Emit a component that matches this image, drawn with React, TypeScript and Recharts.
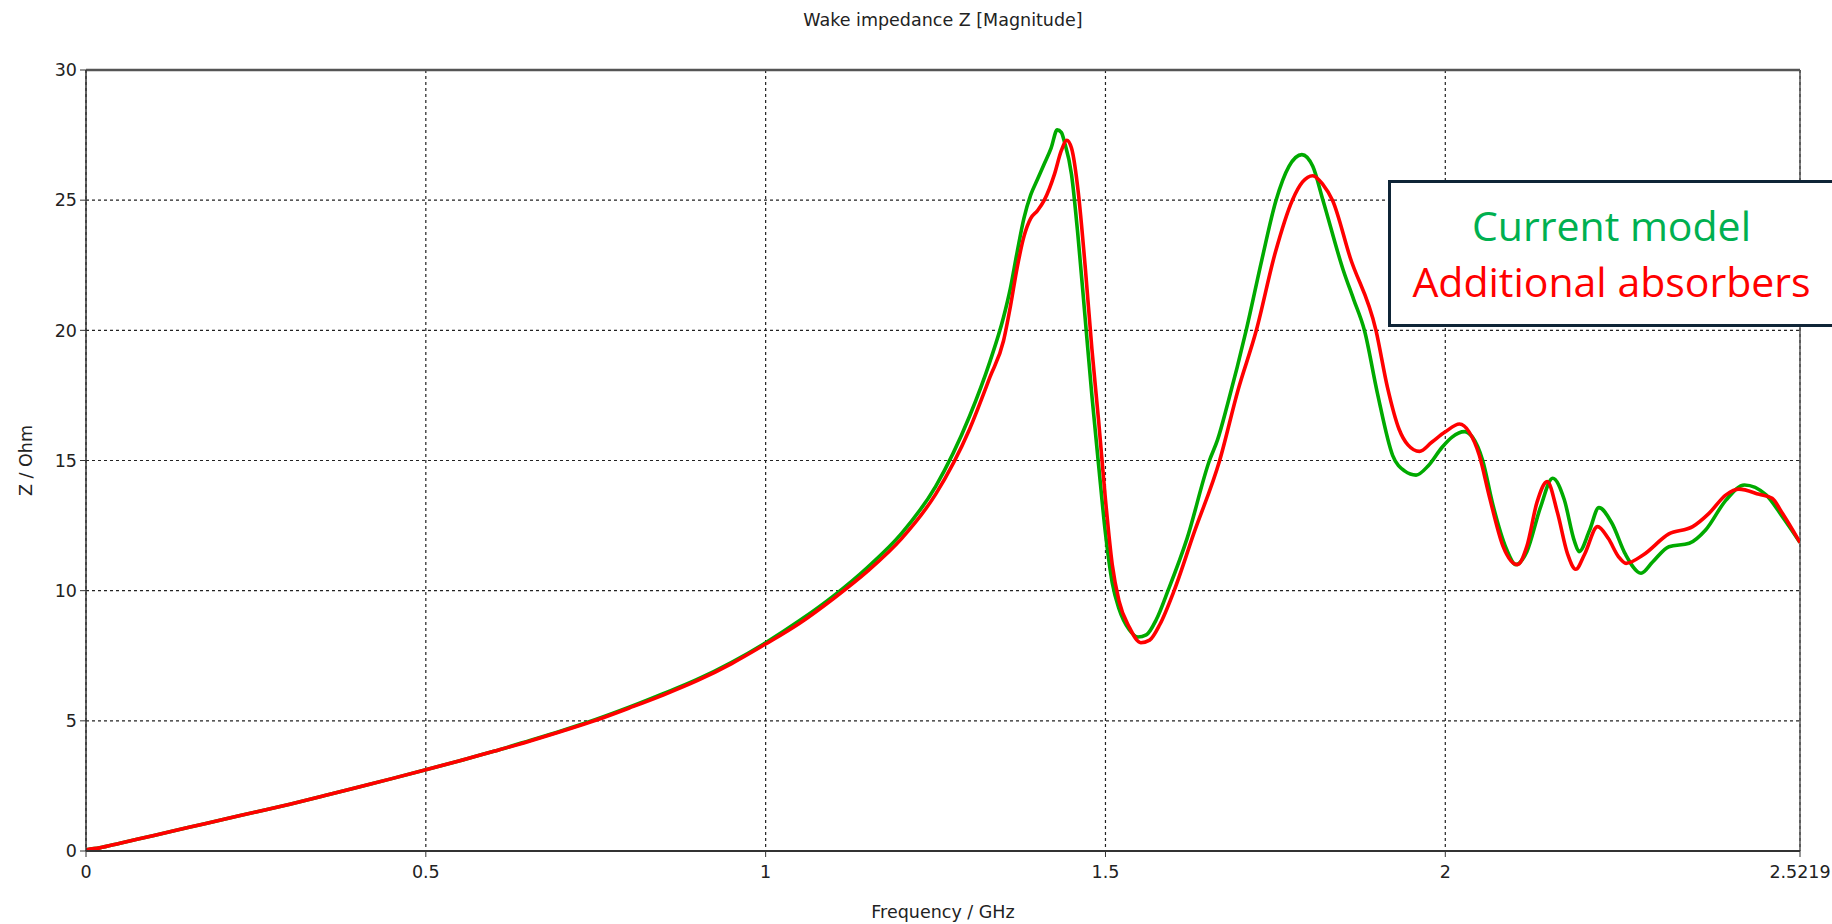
import { LineChart, Line, XAxis, YAxis, CartesianGrid, ReferenceLine } from 'recharts';

// Frequency (GHz) and |Z| (Ohm)
const currentFreq = [
  0, 0.02, 0.05, 0.1, 0.15, 0.2, 0.25, 0.3, 0.35, 0.4, 0.45, 0.5, 0.55, 0.6, 0.65, 0.7, 0.75, 0.8, 0.85, 0.9, 0.95,
  1.0, 1.05, 1.1, 1.15, 1.2, 1.25, 1.3, 1.33, 1.35, 1.36, 1.37, 1.38, 1.39, 1.4, 1.41, 1.42, 1.429, 1.435, 1.44, 1.45,
  1.46, 1.47, 1.48, 1.49, 1.5, 1.51, 1.52, 1.535, 1.548, 1.56, 1.575, 1.592, 1.62, 1.653, 1.665, 1.68, 1.707, 1.73,
  1.751, 1.77, 1.789, 1.805, 1.82, 1.85, 1.865, 1.881, 1.9, 1.9225, 1.94, 1.957, 1.975, 1.995, 2.01, 2.028, 2.04,
  2.055, 2.07, 2.09, 2.104, 2.12, 2.14, 2.158, 2.175, 2.19, 2.197, 2.212, 2.226, 2.245, 2.265, 2.288, 2.305, 2.329,
  2.359, 2.383, 2.413, 2.44, 2.472, 2.496, 2.5219,
];
const currentZ = [
  0.05, 0.12, 0.3, 0.6, 0.9, 1.2, 1.5, 1.8, 2.12, 2.45, 2.78, 3.12, 3.47, 3.83, 4.22, 4.62, 5.05, 5.53, 6.05, 6.6, 7.25,
  8.0, 8.85, 9.8, 10.9, 12.2, 14.0, 16.7, 18.8, 20.5, 21.6, 23.0, 24.3, 25.2, 25.8, 26.4, 27.0, 27.7, 27.6, 27.2, 26.0,
  23.5, 20.5, 17.5, 14.8, 12.2, 10.3, 9.3, 8.5, 8.22, 8.3, 8.9, 10.0, 12.0, 15.0, 15.8, 17.2, 20.0, 22.7,
  25.0, 26.3, 26.75, 26.3, 25.0, 22.3, 21.2, 20.0, 17.6, 15.2, 14.6, 14.44, 14.8, 15.5, 15.9, 16.11, 15.9,
  15.0, 13.3, 11.6, 11.0, 11.5, 13.2, 14.32, 13.5, 11.9, 11.5, 12.3, 13.19, 12.6, 11.4, 10.67, 11.1, 11.69,
  11.82, 12.33, 13.48, 14.06, 13.68, 12.84, 11.85,
];

const absorberFreq = [
  0, 0.02, 0.05, 0.1, 0.15, 0.2, 0.25, 0.3, 0.35, 0.4, 0.45, 0.5, 0.55, 0.6, 0.65, 0.7, 0.75, 0.8, 0.85, 0.9, 0.95,
  1.0, 1.05, 1.1, 1.15, 1.2, 1.25, 1.3, 1.33, 1.35, 1.36, 1.37, 1.38, 1.39, 1.4, 1.41, 1.425, 1.435, 1.443, 1.45, 1.46,
  1.47, 1.48, 1.49, 1.5, 1.51, 1.52, 1.535, 1.552, 1.565, 1.58, 1.601, 1.63, 1.668, 1.695, 1.722, 1.75, 1.775, 1.79,
  1.805, 1.82, 1.834, 1.86, 1.898, 1.915, 1.932, 1.945, 1.962, 1.98, 2.0, 2.021, 2.035, 2.05, 2.065, 2.085, 2.106,
  2.12, 2.135, 2.15, 2.165, 2.18, 2.192, 2.205, 2.224, 2.24, 2.255, 2.266, 2.291, 2.329, 2.364, 2.388, 2.413, 2.432,
  2.462, 2.481, 2.496, 2.5219,
];
const absorberZ = [
  0.05, 0.12, 0.3, 0.6, 0.9, 1.2, 1.5, 1.8, 2.12, 2.45, 2.78, 3.12, 3.47, 3.83, 4.2, 4.6, 5.02, 5.5, 6.0, 6.55, 7.2,
  7.95, 8.75, 9.7, 10.75, 12.0, 13.7, 16.2, 18.2, 19.6, 20.9, 22.4, 23.6, 24.3, 24.6, 25.0, 26.0, 26.9, 27.3, 27.0, 25.3,
  22.5, 19.3, 16.5, 13.5, 11.0, 9.6, 8.6, 8.0, 8.1, 8.7, 10.0, 12.2, 15.0, 17.7, 20.0, 23.0, 25.0, 25.7,
  25.94, 25.6, 25.0, 22.8, 20.0, 17.8, 16.2, 15.6, 15.35, 15.7, 16.1, 16.4, 16.1, 15.2, 13.6, 11.7, 11.0,
  11.7, 13.4, 14.19, 13.0, 11.4, 10.82, 11.4, 12.46, 12.0, 11.3, 11.05, 11.37, 12.18, 12.46, 12.97, 13.68, 13.9,
  13.7, 13.55, 12.97, 11.85,
];

const xTicks = [0, 0.5, 1, 1.5, 2, 2.5, 2.5219];
const yTicks = [0, 5, 10, 15, 20, 25, 30];

const currentData = currentFreq.map((f, i) => ({ f, z: currentZ[i] }));
const absorberData = absorberFreq.map((f, i) => ({ f, z: absorberZ[i] }));

const FONT = 'DejaVu Sans';
const tickStyle = { fill: '#222', fontSize: 17.5, fontFamily: FONT };

export default function App() {
  return (
    <div style={{ position: 'absolute', left: 0, top: 0, width: 1832, height: 924, background: '#fff' }}>
      <div
        style={{
          position: 'absolute',
          top: 10,
          left: 86,
          width: 1714,
          textAlign: 'center',
          fontFamily: FONT,
          fontSize: 17.5,
          color: '#222',
        }}
      >
        Wake impedance Z [Magnitude]
      </div>

      <LineChart width={1832} height={924} margin={{ top: 70, right: 32, left: 0, bottom: 0 }}>
        <CartesianGrid stroke="#222" strokeDasharray="3 3" strokeWidth={1.2} />
        <XAxis
          type="number"
          dataKey="f"
          domain={[0, 2.5219]}
          ticks={xTicks}
          tickFormatter={(v: number) => (v === 2.5 ? '' : String(v))}
          height={73}
          tickSize={6}
          tickMargin={9}
          tick={tickStyle}
          axisLine={{ stroke: '#333', strokeWidth: 2 }}
          tickLine={{ stroke: '#333' }}
          allowDataOverflow
          label={{ value: 'Frequency / GHz', position: 'insideBottom', offset: 6, style: { fill: '#222', fontSize: 17.5, fontFamily: FONT } }}
        />
        <YAxis
          type="number"
          domain={[0, 30]}
          ticks={yTicks}
          width={86}
          tickSize={6}
          tickMargin={3}
          tick={tickStyle}
          axisLine={{ stroke: '#333', strokeWidth: 1.5 }}
          tickLine={{ stroke: '#333' }}
          label={{
            value: 'Z / Ohm',
            angle: -90,
            position: 'insideLeft',
            offset: 26,
            style: { fill: '#222', fontSize: 17.5, fontFamily: FONT, textAnchor: 'middle' },
          }}
        />
        <ReferenceLine y={30} stroke="#555" strokeWidth={2.5} />
        <ReferenceLine x={2.5219} stroke="#555" strokeWidth={1.5} />
        <Line
          data={currentData}
          dataKey="z"
          type="monotone"
          stroke="#00aa00"
          strokeWidth={3.6}
          dot={false}
          isAnimationActive={false}
        />
        <Line
          data={absorberData}
          dataKey="z"
          type="monotone"
          stroke="#ff0000"
          strokeWidth={3.6}
          dot={false}
          isAnimationActive={false}
        />
      </LineChart>

      <div
        style={{
          position: 'absolute',
          left: 1388,
          top: 180,
          width: 444,
          height: 147,
          boxSizing: 'border-box',
          border: '3px solid #0f2537',
          borderRight: 'none',
          background: '#fff',
          fontFamily: 'Open Sans',
          fontSize: 41,
          lineHeight: '56px',
          textAlign: 'center',
          paddingTop: 14,
        }}
      >
        <div style={{ color: '#00b050' }}>Current model</div>
        <div style={{ color: '#ff0000' }}>Additional absorbers</div>
      </div>
    </div>
  );
}
